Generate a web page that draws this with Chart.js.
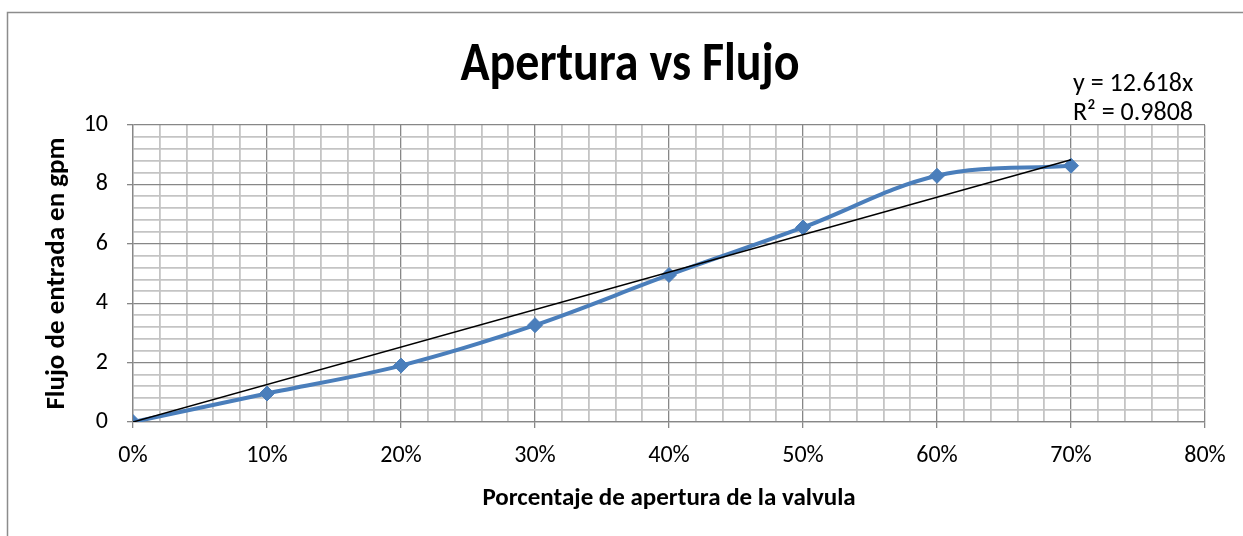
<!DOCTYPE html>
<html>
<head>
<meta charset="utf-8">
<script src="https://cdn.jsdelivr.net/npm/chart.js@4/dist/chart.umd.min.js"></script>
<style>
  html, body { margin: 0; padding: 0; background: #fff; }
  #wrap { width: 1243px; height: 536px; position: relative; }
</style>
</head>
<body>
<div id="wrap"><canvas id="chart" width="1243" height="536"></canvas></div>
<script>
// Datos
const aperturas = [0, 0.1, 0.2, 0.3, 0.4, 0.5, 0.6, 0.7];
const flujo = [0, 0.96, 1.90, 3.26, 4.95, 6.55, 8.29, 8.63];

// Linea de tendencia y = 12.618x (extremos)
const trendX = [0, 0.7];
const trendY = [0, 8.83];

const xTickLabels = ['0%', '10%', '20%', '30%', '40%', '50%', '60%', '70%', '80%'];
const yTickLabels = ['0', '2', '4', '6', '8', '10'];
const equationLines = ['y = 12.618x', 'R\u00B2 = 0.9808'];

const FONT = "Carlito, 'Open Sans', sans-serif";
const MAJOR = '#878787';
const MINOR = '#c4c4c4';

const isMajorX = v => Math.round(v * 100) % 10 === 0;
const isMajorY = v => Math.round(v * 10) % 20 === 0;

// Title, equation and outer frame
const decor = {
  id: 'decor',
  beforeDraw(chart) {
    const c = chart.ctx;
    c.save();
    c.strokeStyle = '#8c8c8c';
    c.lineWidth = 1.5;
    c.strokeRect(7.5, 12.5, 1300, 600);
    c.restore();
  },
  afterDraw(chart) {
    const c = chart.ctx;
    c.save();
    c.fillStyle = '#000';
    c.textAlign = 'center';
    c.textBaseline = 'middle';
    // titulo un poco mas alto, como en la imagen original
    c.translate(630, 66);
    c.scale(1, 1.15);
    c.font = "bold 48px " + FONT;
    c.fillText('Apertura vs Flujo', 0, 0);
    c.restore();

    c.save();
    c.fillStyle = '#000';
    c.textAlign = 'left';
    c.textBaseline = 'middle';
    c.font = "26px " + FONT;
    c.fillText(equationLines[0], 1073, 84);
    c.fillText(equationLines[1], 1073, 113);
    c.restore();
  }
};

new Chart(document.getElementById('chart'), {
  type: 'line',
  data: {
    datasets: [
      {
        label: 'Flujo',
        data: aperturas.map((x, i) => ({ x, y: flujo[i] })),
        borderColor: '#4a7ebb',
        backgroundColor: '#4a7ebb',
        borderWidth: 4,
        tension: 0.35,
        pointStyle: 'rectRot',
        pointRadius: 7.5,
        pointBorderWidth: 1,
        pointBackgroundColor: '#4a7ebb',
        pointBorderColor: '#4a7ebb',
        order: 2
      },
      {
        label: 'Tendencia',
        data: trendX.map((x, i) => ({ x, y: trendY[i] })),
        borderColor: '#000',
        borderWidth: 1.5,
        pointRadius: 0,
        tension: 0,
        order: 1
      }
    ]
  },
  options: {
    responsive: false,
    animation: false,
    layout: { padding: { top: 125, right: 38, left: 0, bottom: 0 } },
    plugins: {
      legend: { display: false },
      tooltip: { enabled: false },
      title: { display: false }
    },
    scales: {
      x: {
        type: 'linear',
        min: 0,
        max: 0.8,
        ticks: {
          stepSize: 0.02,
          autoSkip: false,
          maxRotation: 0,
          padding: 14,
          color: '#000',
          font: { family: FONT, size: 24 },
          callback: v => isMajorX(v) ? xTickLabels[Math.round(v * 10)] : ''
        },
        grid: {
          color: ctx => isMajorX(ctx.tick.value) ? MAJOR : MINOR,
          lineWidth: ctx => isMajorX(ctx.tick.value) ? 1.3 : 1.8,
          tickColor: ctx => isMajorX(ctx.tick.value) ? MAJOR : 'rgba(0,0,0,0)',
          tickLength: 6
        },
        border: { color: MAJOR, width: 1.3 },
        title: {
          display: true,
          text: 'Porcentaje de apertura de la valvula',
          color: '#000',
          font: { family: FONT, size: 25, weight: 'bold' },
          padding: { top: 0, bottom: 22 }
        },
        afterFit: s => { s.height = 114; }
      },
      y: {
        min: 0,
        max: 10,
        ticks: {
          stepSize: 0.4,
          autoSkip: false,
          padding: 19,
          color: '#000',
          font: { family: FONT, size: 24 },
          callback: v => isMajorY(v) ? yTickLabels[Math.round(v / 2)] : ''
        },
        grid: {
          color: ctx => isMajorY(ctx.tick.value) ? MAJOR : MINOR,
          lineWidth: ctx => isMajorY(ctx.tick.value) ? 1.3 : 1.8,
          tickColor: ctx => isMajorY(ctx.tick.value) ? MAJOR : 'rgba(0,0,0,0)',
          tickLength: 6
        },
        border: { color: MAJOR, width: 1.3 },
        title: {
          display: true,
          text: 'Flujo de entrada en gpm',
          color: '#000',
          font: { family: FONT, size: 27, weight: 'bold' },
          padding: { top: 41, bottom: 0 }
        },
        afterFit: s => { s.width = 133; }
      }
    }
  },
  plugins: [decor]
});
</script>
</body>
</html>
